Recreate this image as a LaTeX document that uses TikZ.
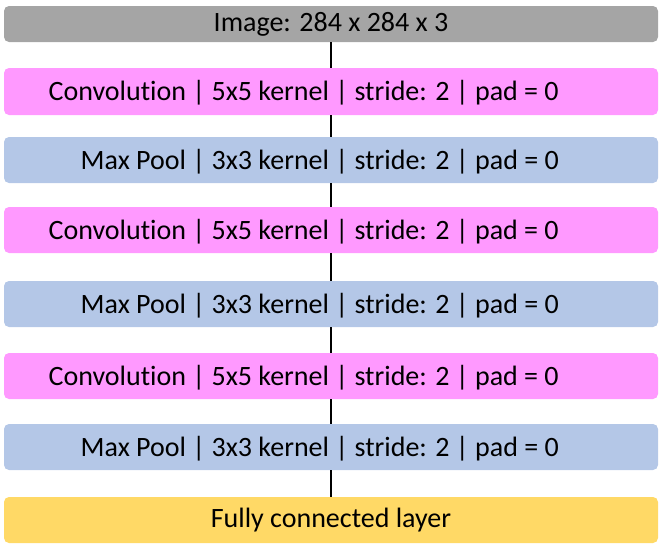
\documentclass[tikz,border=0pt]{standalone}
\usepackage{fontspec}
\setmainfont{Carlito}[Ligatures=NoCommon]
\definecolor{imggray}{HTML}{A5A5A5}
\definecolor{convpink}{HTML}{FF99FF}
\definecolor{poolblue}{HTML}{B4C7E7}
\definecolor{fcyellow}{HTML}{FFD966}
\tikzset{
  layer/.style={rounded corners=5pt, minimum width=654pt, inner sep=0pt, font=\fontsize{28}{32}\selectfont},
  laytext/.style={anchor=east, inner sep=0pt, yshift=-1.5pt, font=\fontsize{28}{32}\selectfont},
  link/.style={line width=1.5pt}
}
\begin{document}
\begin{tikzpicture}[x=1pt,y=-1pt]
\useasboundingbox (0,0) rectangle (661,544);

\node[layer, fill=imggray, minimum height=36pt] (img) at (331,24) {Image: 284 x 284 x 3};
\node[layer, fill=convpink, minimum height=47pt] (conv1) at (331,91.5) {};
\node[layer, fill=poolblue, minimum height=46pt] (pool1) at (331,160) {};
\node[layer, fill=convpink, minimum height=46pt] (conv2) at (331,230) {};
\node[layer, fill=poolblue, minimum height=46pt] (pool2) at (331,304) {};
\node[layer, fill=convpink, minimum height=46pt] (conv3) at (331,376) {};
\node[layer, fill=poolblue, minimum height=46pt] (pool3) at (331,447) {};
\node[layer, fill=fcyellow, minimum height=46pt] (fc) at (331,520) {Fully connected layer};

\node[laytext] (conv1txt) at (559,91.5) {Convolution | 5x5 kernel | stride: 2 | pad = 0};
\node[laytext] (pool1txt) at (559,160) {Max Pool | 3x3 kernel | stride: 2 | pad = 0};
\node[laytext] (conv2txt) at (559,230) {Convolution | 5x5 kernel | stride: 2 | pad = 0};
\node[laytext] (pool2txt) at (559,304) {Max Pool | 3x3 kernel | stride: 2 | pad = 0};
\node[laytext] (conv3txt) at (559,376) {Convolution | 5x5 kernel | stride: 2 | pad = 0};
\node[laytext] (pool3txt) at (559,447) {Max Pool | 3x3 kernel | stride: 2 | pad = 0};

\draw[link] (img.south) -- (conv1.north);
\draw[link] (conv1.south) -- (pool1.north);
\draw[link] (pool1.south) -- (conv2.north);
\draw[link] (conv2.south) -- (pool2.north);
\draw[link] (pool2.south) -- (conv3.north);
\draw[link] (conv3.south) -- (pool3.north);
\draw[link] (pool3.south) -- (fc.north);

\end{tikzpicture}
\end{document}
